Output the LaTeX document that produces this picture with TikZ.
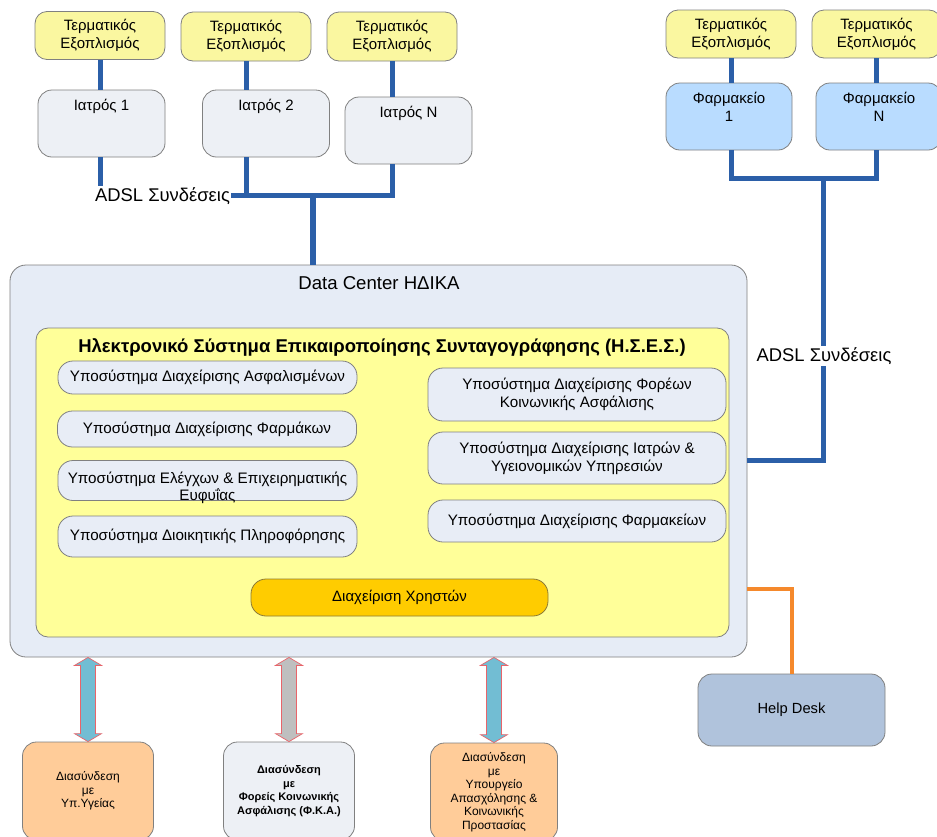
\documentclass[tikz,border=0pt]{standalone}
\usepackage{fontspec}
\setmainfont{Liberation Sans}
\usetikzlibrary{calc}
\definecolor{bordergray}{HTML}{808080}
\definecolor{termY}{HTML}{FAF7A0}
\definecolor{hsesY}{HTML}{FFFF99}
\definecolor{docgray}{HTML}{EDF0F5}
\definecolor{dcfill}{HTML}{E6ECF6}
\definecolor{subfill}{HTML}{E8EDF6}
\definecolor{farmfill}{HTML}{B9DCFF}
\definecolor{hdfill}{HTML}{B0C3DC}
\definecolor{peach}{HTML}{FFCC99}
\definecolor{gold}{HTML}{FFCC00}
\definecolor{goldborder}{HTML}{8C7A36}
\definecolor{lineblue}{HTML}{2B5FA8}
\definecolor{lineorange}{HTML}{F5892C}
\definecolor{arrblue}{HTML}{72BDD3}
\definecolor{arrgray}{HTML}{BFBFBF}
\definecolor{arrred}{HTML}{E8646A}
\newcommand\dblarrow[3]{%
  \path[draw=arrred, line width=0.7pt, fill=#3] let \p1=#1, \p2=#2 in
    (\x1,\y1) -- (\x1+13.5pt,\y1-8pt) -- (\x1+7.5pt,\y1-8pt) -- (\x1+7.5pt,\y2+8pt)
    -- (\x1+13.5pt,\y2+8pt) -- (\x1,\y2) -- (\x1-13.5pt,\y2+8pt) -- (\x1-7.5pt,\y2+8pt)
    -- (\x1-7.5pt,\y1-8pt) -- (\x1-13.5pt,\y1-8pt) -- cycle;}
\tikzset{
  box/.style={draw=bordergray, line width=0.8pt, align=center, inner sep=0pt},
  term/.style={box, fill=termY, rounded corners=12pt, minimum width=130pt, minimum height=48pt,
    font=\fontsize{15}{18}\selectfont},
  doc/.style={box, fill=docgray, rounded corners=14pt, minimum width=127pt, minimum height=67pt},
  farm/.style={box, fill=farmfill, rounded corners=14pt, minimum width=126pt, minimum height=67pt},
  toplabel/.style={anchor=north, font=\fontsize{15}{18}\selectfont, align=center, inner sep=0pt},
  sub/.style={box, fill=subfill, rounded corners=15pt, font=\fontsize{15.2}{18}\selectfont},
  bottombox/.style={box, rounded corners=14pt, minimum width=131pt, minimum height=98pt,
    font=\fontsize{12}{13.5}\selectfont},
  blueline/.style={draw=lineblue, line width=5pt},
  trunkline/.style={draw=lineblue, line width=6.5pt},
  orangeline/.style={draw=lineorange, line width=4pt},
  adsl/.style={fill=white, inner sep=1pt, font=\fontsize{18.4}{21}\selectfont},
}
\begin{document}
\begin{tikzpicture}[x=1pt, y=-1pt]
\useasboundingbox[fill=white] (0,0) rectangle (937,836);

% ---------- data center ----------
\node[box, fill=dcfill, rounded corners=16pt, minimum width=737pt, minimum height=392pt] (DC) at (378.5,461) {};
\node[font=\fontsize{18.6}{21}\selectfont] (DCt) at (379,283) {Data Center ΗΔΙΚΑ};
\node[box, fill=hsesY, rounded corners=12pt, minimum width=693pt, minimum height=309pt] (YB) at (382.5,482.5) {};
\node[font=\bfseries\fontsize{18.5}{21}\selectfont] (YBt) at (382,347) {Ηλεκτρονικό Σύστημα Επικαιροποίησης Συνταγογράφησης (Η.Σ.Ε.Σ.)};

\node[sub, minimum width=299pt, minimum height=33pt] (S1) at (207.5,377.5) {Υποσύστημα Διαχείρισης Ασφαλισμένων};
\node[sub, minimum width=299pt, minimum height=36pt] (S2) at (207,429) {Υποσύστημα Διαχείρισης Φαρμάκων};
\node[sub, minimum width=299pt, minimum height=39pt, text height=40pt, text depth=0pt] (S3) at (207.5,480.5) {Υποσύστημα Ελέγχων \& Επιχειρηματικής\\[-1pt]Ευφυΐας};
\node[sub, minimum width=299pt, minimum height=41pt] (S4) at (207.5,536.5) {Υποσύστημα Διοικητικής Πληροφόρησης};
\node[sub, minimum width=298pt, minimum height=53pt] (R1) at (577,394.5) {Υποσύστημα Διαχείρισης Φορέων\\Κοινωνικής Ασφάλισης};
\node[sub, minimum width=298pt, minimum height=52pt] (R2) at (577,458) {Υποσύστημα Διαχείρισης Ιατρών \&\\Υγειονομικών Υπηρεσιών};
\node[sub, minimum width=298pt, minimum height=42pt] (R3) at (577,521) {Υποσύστημα Διαχείρισης Φαρμακείων};
\node[box, fill=gold, draw=goldborder, rounded corners=15pt, minimum width=297pt, minimum height=37pt,
  font=\fontsize{15}{18}\selectfont] (UM) at (399.5,597.5) {Διαχείριση Χρηστών};

% ---------- doctors ----------
\node[term] (T1) at (100,35.5) {Τερματικός\\Εξοπλισμός};
\node[term, minimum height=49pt] (T2) at (246,36.5) {Τερματικός\\Εξοπλισμός};
\node[term, minimum height=49pt] (T3) at (392,36.5) {Τερματικός\\Εξοπλισμός};
\node[doc, label={[toplabel, yshift=-9pt]north:Ιατρός 1}] (I1) at (101.5,123.5) {};
\node[doc, label={[toplabel, yshift=-9pt]north:Ιατρός 2}] (I2) at (266,123.5) {};
\node[doc, label={[toplabel, yshift=-9pt]north:Ιατρός Ν}] (IN) at (408.5,130.5) {};

\coordinate (lbus) at (0,195);
\coordinate (ltrunk) at (313,195);
\draw[blueline] (T1.south) -- (T1.south |- I1.north);
\draw[blueline] (T2.south) -- (T2.south |- I2.north);
\draw[blueline] (T3.south) -- (T3.south |- IN.north);
\draw[blueline] (T1.south |- I1.south) -- (T1.south |- lbus) -- (T3.south |- lbus) -- (T3.south |- IN.south);
\draw[blueline] (T2.south |- I2.south) -- (T2.south |- lbus);
\draw[trunkline] (ltrunk) -- (ltrunk |- DC.north);
\node[adsl] (AL) at (162.5,196) {ADSL Συνδέσεις};

% ---------- pharmacies ----------
\node[term] (T4) at (731,34) {Τερματικός\\Εξοπλισμός};
\node[term, minimum width=129pt] (T5) at (876.5,34) {Τερματικός\\Εξοπλισμός};
\node[farm, label={[toplabel, yshift=-9pt]north:Φαρμακείο\\1}] (F1) at (729,116.5) {};
\node[farm, label={[toplabel, yshift=-9pt]north:Φαρμακείο\\Ν}] (FN) at (879,116.5) {};

\coordinate (rbus) at (0,178);
\coordinate (rtrunk) at (823,178);
\coordinate (rjoin) at (0,460);
\draw[blueline] (T4.south) -- (T4.south |- F1.north);
\draw[blueline] (T5.south) -- (T5.south |- FN.north);
\draw[blueline] (T4.south |- F1.south) -- (T4.south |- rbus) -- (T5.south |- rbus) -- (T5.south |- FN.south);
\draw[blueline] (rtrunk) -- (rtrunk |- rjoin) -- (DC.east |- rjoin);
\node[adsl] (AR) at (824,356) {ADSL Συνδέσεις};

% ---------- help desk ----------
\node[box, fill=hdfill, rounded corners=14pt, minimum width=187pt, minimum height=72pt,
  font=\fontsize{14.7}{17}\selectfont] (HD) at (791.5,710) {Help Desk};
\coordinate (ojoin) at (0,589);
\draw[orangeline] (DC.east |- ojoin) -| (HD.north);

% ---------- bottom interfaces ----------
\node[bottombox, fill=peach] (B1) at (88,791) {Διασύνδεση\\με\\Υπ.Υγείας};
\node[bottombox, fill=docgray, font=\bfseries\fontsize{11}{13.6}\selectfont] (B2) at (289,791) {Διασύνδεση\\με\\Φορείς Κοινωνικής\\Ασφάλισης (Φ.Κ.Α.)};
\node[bottombox, fill=peach, minimum width=127pt] (B3) at (494,792) {Διασύνδεση\\με\\Υπουργείο\\Απασχόλησης \&\\Κοινωνικής\\Προστασίας};
\dblarrow{(B1.north |- DC.south)}{(B1.north)}{arrblue}
\dblarrow{(B2.north |- DC.south)}{(B2.north)}{arrgray}
\dblarrow{(B3.north |- DC.south)}{(B3.north)}{arrblue}
\end{tikzpicture}
\end{document}
